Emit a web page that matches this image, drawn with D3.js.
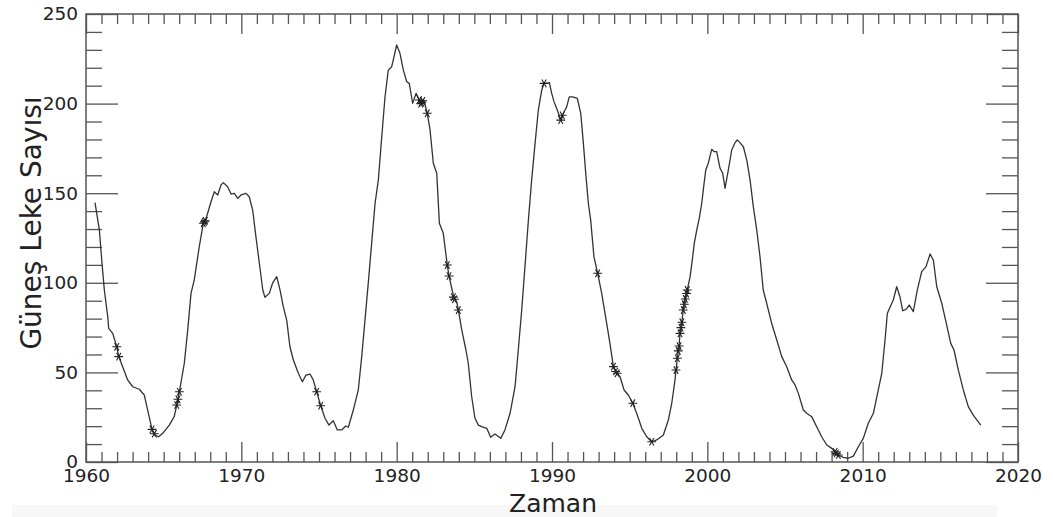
<!DOCTYPE html>
<html>
<head>
<meta charset="utf-8">
<script src="https://cdn.jsdelivr.net/npm/d3@7"></script>
<style>
  html, body { margin: 0; padding: 0; background: #fff; }
  svg { display: block; font-family: "DejaVu Sans", sans-serif; }
</style>
</head>
<body>
<svg id="chart" width="1053" height="517"></svg>
<script>
// Smoothed sunspot number, sampled along the curve
const years = [
  1960.58,1960.86,1961.03,1961.18,1961.40,1961.46,1961.72,1961.98,1962.11,1962.36,
  1962.68,1963.01,1963.43,1963.75,1963.97,1964.25,1964.40,1964.68,1964.94,1965.36,
  1965.68,1965.84,1965.92,1966.01,1966.33,1966.55,1966.76,1966.97,1967.29,1967.55,
  1967.68,1967.83,1968.05,1968.26,1968.48,1968.69,1968.84,1969.12,1969.34,1969.55,
  1969.77,1969.98,1970.30,1970.51,1970.73,1970.94,1971.16,1971.38,1971.52,1971.80,
  1972.02,1972.28,1972.49,1972.70,1972.92,1973.13,1973.35,1973.67,1973.93,1974.16,
  1974.42,1974.63,1974.85,1975.11,1975.39,1975.64,1975.92,1976.18,1976.46,1976.72,
  1976.89,1977.21,1977.53,1977.75,1977.96,1978.17,1978.39,1978.61,1978.82,1979.04,
  1979.25,1979.46,1979.68,1979.78,1980.00,1980.21,1980.43,1980.65,1980.81,1981.03,
  1981.25,1981.46,1981.61,1981.76,1981.97,1982.15,1982.36,1982.58,1982.75,1983.00,
  1983.26,1983.37,1983.69,1983.87,1983.97,1984.19,1984.46,1984.61,1984.83,1985.04,
  1985.26,1985.47,1985.80,1986.05,1986.33,1986.70,1986.97,1987.30,1987.62,1987.83,
  1988.05,1988.26,1988.48,1988.69,1988.91,1989.12,1989.34,1989.49,1989.66,1989.83,
  1989.98,1990.13,1990.34,1990.56,1990.73,1990.95,1991.11,1991.33,1991.63,1991.85,
  1992.02,1992.19,1992.34,1992.49,1992.70,1992.94,1993.20,1993.52,1993.73,1993.95,
  1994.17,1994.38,1994.64,1994.91,1995.20,1995.45,1995.78,1996.10,1996.42,1996.74,
  1997.17,1997.49,1997.71,1997.92,1997.98,1998.07,1998.18,1998.24,1998.35,1998.45,
  1998.56,1998.71,1998.89,1999.03,1999.16,1999.32,1999.48,1999.64,1999.79,1999.90,
  2000.06,2000.28,2000.43,2000.60,2000.82,2000.99,2001.14,2001.35,2001.57,2001.78,
  2001.93,2002.10,2002.32,2002.54,2002.75,2002.96,2003.18,2003.39,2003.60,2003.82,
  2004.14,2004.47,2004.79,2005.11,2005.43,2005.65,2005.86,2006.18,2006.40,2006.72,
  2007.04,2007.36,2007.69,2008.01,2008.22,2008.43,2008.75,2009.08,2009.40,2009.72,
  2010.04,2010.36,2010.69,2010.91,2011.23,2011.44,2011.59,2011.76,2011.97,2012.19,
  2012.40,2012.58,2012.79,2013.00,2013.26,2013.52,2013.80,2014.08,2014.34,2014.55,
  2014.77,2015.09,2015.41,2015.67,2015.88,2016.16,2016.48,2016.80,2017.12,2017.60
];
const sunspots = [
  144.7,129.5,110.9,96.0,81.1,74.6,71.8,64.3,58.8,53.2,
  45.8,42.0,40.6,37.4,29.0,18.2,15.1,14.1,16.0,20.6,
  25.3,31.8,35.0,39.2,55.1,73.7,94.1,101.6,120.1,133.2,
  134.6,138.8,145.2,150.8,149.0,154.6,155.9,153.6,149.5,149.9,
  147.1,149.0,149.9,148.0,140.6,125.7,110.9,96.0,91.9,94.1,
  100.0,103.4,96.0,86.7,79.2,64.3,56.9,49.5,44.8,48.5,
  49.1,45.8,39.2,31.4,24.4,20.6,23.0,17.9,17.9,20.1,
  19.4,29.0,40.2,58.8,79.2,99.7,122.0,144.4,157.4,181.5,
  203.8,218.7,220.6,224.3,232.7,228.1,218.7,212.2,211.3,200.2,
  205.7,202.0,200.5,201.6,194.6,185.3,166.7,161.1,133.2,127.6,
  109.9,103.8,91.3,89.5,84.8,73.7,62.5,55.1,36.4,24.4,
  20.6,19.7,18.8,13.8,15.6,13.2,17.9,27.2,42.0,62.5,
  84.8,109.0,135.0,157.4,177.8,196.4,207.6,211.3,211.3,211.7,
  205.7,201.1,196.4,190.8,194.6,198.3,203.8,203.8,202.9,194.6,
  177.8,159.2,144.4,135.0,114.6,105.3,94.1,77.4,66.2,53.2,
  49.8,47.6,40.2,37.4,32.8,27.2,18.8,14.1,11.3,12.3,
  15.1,23.4,32.8,45.8,51.3,57.9,64.7,71.8,77.4,84.8,
  90.4,96.0,103.4,112.7,122.0,129.5,136.0,144.4,155.5,162.9,
  166.7,174.5,173.2,173.2,163.9,161.1,152.7,162.9,174.1,178.2,
  179.7,178.2,175.9,168.5,157.4,142.5,129.5,114.6,96.0,88.6,
  77.4,68.1,58.8,53.2,45.8,43.0,38.3,29.0,27.2,25.3,
  19.7,14.1,9.5,7.6,5.7,3.9,2.6,2.1,3.3,8.5,
  13.2,21.6,27.2,36.4,49.5,68.1,83.0,86.3,90.4,97.8,
  92.2,84.4,85.2,87.6,83.9,96.0,106.2,109.0,116.1,112.7,
  97.8,88.6,76.4,66.2,62.5,51.3,40.2,30.9,26.2,20.6
];

// Marked months (asterisks)
const markYears = [
  1961.98,1962.11,1964.25,1964.40,1965.84,1965.92,1966.01,1967.55,1967.62,1967.68,
  1974.85,1975.11,1981.46,1981.55,1981.61,1981.68,1981.97,1983.26,1983.37,1983.65,
  1983.72,1983.97,1989.49,1990.56,1990.66,1992.94,1993.95,1994.10,1994.20,1995.20,
  1996.42,1997.98,1998.07,1998.13,1998.18,1998.24,1998.30,1998.36,1998.45,1998.52,
  1998.58,1998.66,1998.71,2008.22,2008.30,2008.43
];
const markValues = [
  64.3,58.8,18.2,15.8,31.8,35.0,39.2,133.2,134.0,134.6,
  39.2,31.4,202.0,200.0,200.5,201.5,194.6,109.9,103.8,92.0,
  90.8,84.8,211.3,190.8,193.5,105.3,53.2,50.5,49.5,32.8,
  11.3,51.3,57.9,62.0,64.7,71.8,75.0,78.0,84.8,88.0,
  91.0,94.0,96.0,5.7,4.8,3.9
];

const xMajorTicks = [1960, 1970, 1980, 1990, 2000, 2010, 2020];
const yMajorTicks = [0, 50, 100, 150, 200, 250];
const xTitle = "Zaman";
const yTitle = "Güneş Leke Sayısı";

const svg = d3.select("#chart");
const W = 1053, H = 517;
const m = { left: 86, right: 35, top: 14, bottom: 55 };
const iw = W - m.left - m.right, ih = H - m.top - m.bottom;

const x = d3.scaleLinear().domain([1960, 2020]).range([m.left, m.left + iw]);
const y = d3.scaleLinear().domain([0, 250]).range([m.top + ih, m.top]);

const axisColor = "#555";
const labelColor = "#222";

// faint strip under the x title
svg.append("rect").attr("x", 12).attr("y", 505).attr("width", 985).attr("height", 12)
  .attr("fill", "#f7f7f7");

const xMinor = d3.range(1960, 2021, 1).filter(v => v % 10 !== 0);
const yMinor = d3.range(0, 251, 10).filter(v => v % 50 !== 0);

function styleAxis(g, showLabels) {
  g.select(".domain").remove();
  g.selectAll(".tick line").attr("stroke", axisColor).attr("stroke-width", 1.3);
  if (!showLabels) {
    g.selectAll(".tick text").remove();
    return;
  }
  g.selectAll(".tick text")
    .attr("fill", labelColor)
    .style("font-size", "18.5px")
    .style("font-family", "'DejaVu Sans', sans-serif");
}

// bottom axis: inward ticks
svg.append("g").attr("transform", `translate(0,${m.top + ih})`)
  .call(d3.axisBottom(x).tickValues(xMajorTicks).tickFormat(d3.format("d")).tickSize(-20).tickPadding(7))
  .call(g => styleAxis(g, true));
svg.append("g").attr("transform", `translate(0,${m.top + ih})`)
  .call(d3.axisBottom(x).tickValues(xMinor).tickSize(-10))
  .call(g => styleAxis(g, false));
// top axis
svg.append("g").attr("transform", `translate(0,${m.top})`)
  .call(d3.axisTop(x).tickValues(xMajorTicks).tickSize(-20))
  .call(g => styleAxis(g, false));
svg.append("g").attr("transform", `translate(0,${m.top})`)
  .call(d3.axisTop(x).tickValues(xMinor).tickSize(-10))
  .call(g => styleAxis(g, false));
// left axis
svg.append("g").attr("transform", `translate(${m.left},0)`)
  .call(d3.axisLeft(y).tickValues(yMajorTicks).tickFormat(d3.format("d")).tickSize(-32).tickPadding(8))
  .call(g => styleAxis(g, true));
svg.append("g").attr("transform", `translate(${m.left},0)`)
  .call(d3.axisLeft(y).tickValues(yMinor).tickSize(-16))
  .call(g => styleAxis(g, false));
// right axis
svg.append("g").attr("transform", `translate(${m.left + iw},0)`)
  .call(d3.axisRight(y).tickValues(yMajorTicks).tickSize(-32))
  .call(g => styleAxis(g, false));
svg.append("g").attr("transform", `translate(${m.left + iw},0)`)
  .call(d3.axisRight(y).tickValues(yMinor).tickSize(-16))
  .call(g => styleAxis(g, false));

// plot frame
svg.append("rect")
  .attr("x", m.left).attr("y", m.top).attr("width", iw).attr("height", ih)
  .attr("fill", "none").attr("stroke", axisColor).attr("stroke-width", 1.5);

// sunspot curve
const series = years.map((t, i) => [t, sunspots[i]]);
svg.append("path")
  .datum(series)
  .attr("fill", "none")
  .attr("stroke", "#333")
  .attr("stroke-width", 1.3)
  .attr("stroke-linejoin", "round")
  .attr("d", d3.line().x(d => x(d[0])).y(d => y(d[1])));

// asterisk markers
const r = 4.4;
const star = `M${-r},0L${r},0` +
  `M${-r * 0.5},${-r * 0.87}L${r * 0.5},${r * 0.87}` +
  `M${r * 0.5},${-r * 0.87}L${-r * 0.5},${r * 0.87}`;
svg.append("g").selectAll("path")
  .data(markYears.map((t, i) => [t, markValues[i]]))
  .join("path")
  .attr("transform", d => `translate(${x(d[0])},${y(d[1])})`)
  .attr("d", star)
  .attr("fill", "none")
  .attr("stroke", "#222")
  .attr("stroke-width", 1.1);

// axis titles
svg.append("text")
  .attr("x", m.left + iw / 2 + 1).attr("y", 512)
  .attr("text-anchor", "middle")
  .attr("fill", labelColor)
  .style("font-size", "25px")
  .text(xTitle);
svg.append("text")
  .attr("transform", `translate(41,${223}) rotate(-90)`)
  .attr("text-anchor", "middle")
  .attr("fill", labelColor)
  .style("font-size", "28px")
  .text(yTitle);
</script>
</body>
</html>
